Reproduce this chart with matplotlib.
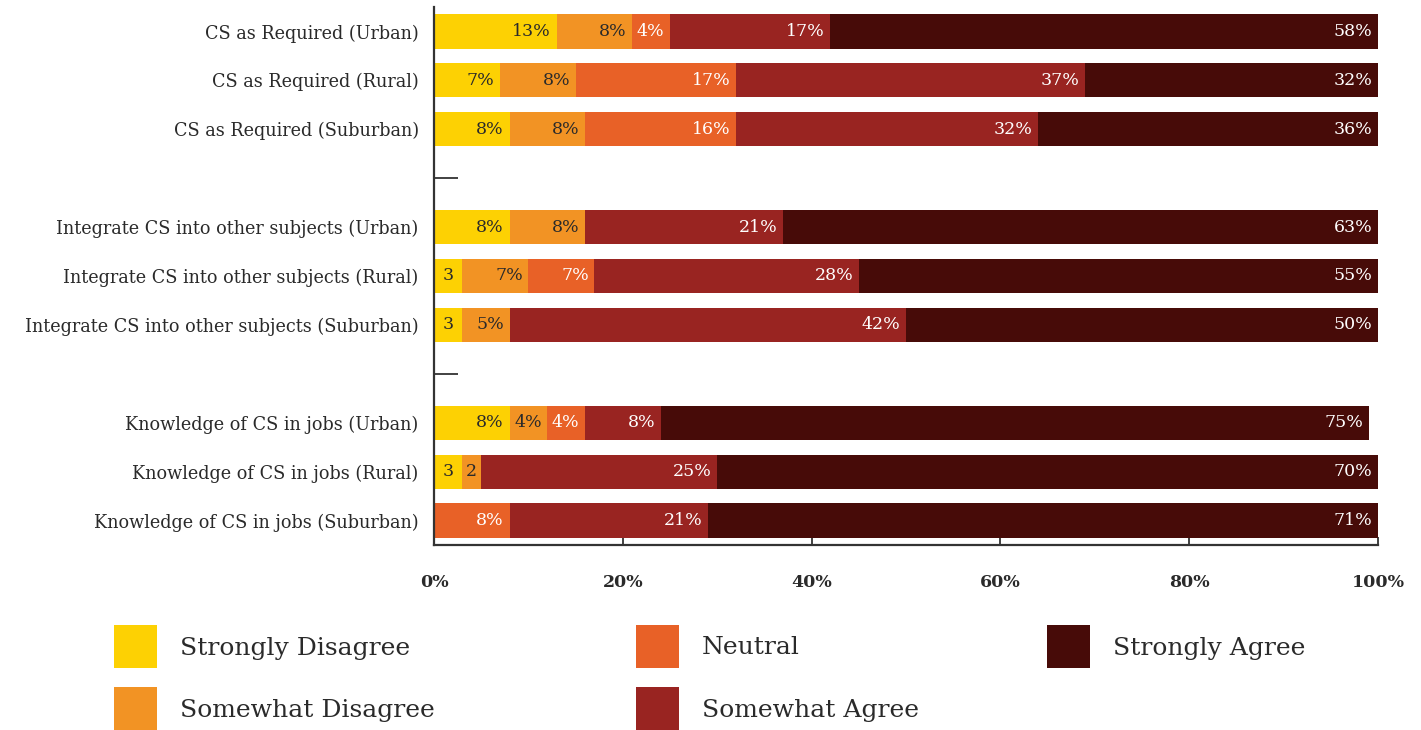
import matplotlib.pyplot as plt
import matplotlib.patches as mpatches

plt.rcParams['font.family'] = ['DejaVu Serif']

# survey rows, '' marks the blank gap between groups
rows = ['CS as Required (Urban)', 'CS as Required (Rural)', 'CS as Required (Suburban)', '',
        'Integrate CS into other subjects (Urban)', 'Integrate CS into other subjects (Rural)',
        'Integrate CS into other subjects (Suburban)', '',
        'Knowledge of CS in jobs (Urban)', 'Knowledge of CS in jobs (Rural)',
        'Knowledge of CS in jobs (Suburban)']

responses = ['Strongly Disagree', 'Somewhat Disagree', 'Neutral', 'Somewhat Agree', 'Strongly Agree']
colors = ['#FDD103', '#F29324', '#E86127', '#992421', '#470B08']
text_colors = ['#2a2a2a', '#2a2a2a', 'white', 'white', 'white']

strongly_disagree = [13, 7, 8, None, 8, 3, 3, None, 8, 3, 0]
somewhat_disagree = [8, 8, 8, None, 8, 7, 5, None, 4, 2, 0]
neutral = [4, 17, 16, None, 0, 7, 0, None, 4, 0, 8]
somewhat_agree = [17, 37, 32, None, 21, 28, 42, None, 8, 25, 21]
strongly_agree = [58, 32, 36, None, 63, 55, 50, None, 75, 70, 71]

series = [strongly_disagree, somewhat_disagree, neutral, somewhat_agree, strongly_agree]

fig = plt.figure(figsize=(14.21, 7.30), dpi=100)
ax = fig.add_axes([434 / 1421, 1 - 545 / 730, 944 / 1421, 538 / 730])

ypos = list(range(len(rows)))
left = [0] * len(rows)
for vals, col, tcol in zip(series, colors, text_colors):
    for i, v in enumerate(vals):
        if v is None or v == 0:
            continue
        ax.barh(i, v, left=left[i], height=0.7, color=col, linewidth=0)
        end = left[i] + v
        if v >= 4:
            ax.annotate(f'{v}%', (min(end, 100), i), xytext=(-4, 0), textcoords='offset points',
                        ha='right', va='center', fontsize=12.5, color=tcol)
        else:
            ax.text(left[i] + v / 2, i, f'{v}', ha='center', va='center', fontsize=12.5, color=tcol)
        left[i] = end

ax.set_xlim(0, 100)
ax.set_ylim(len(rows) - 0.5, -0.5)
ax.set_yticks(ypos)
ax.set_yticklabels(rows, fontsize=12.7, color='#2a2a2a')
ax.set_xticks([0, 20, 40, 60, 80, 100])
ax.set_xticklabels(['0%', '20%', '40%', '60%', '80%', '100%'], fontsize=12.5,
                   color='#2a2a2a', fontweight='semibold')
ax.tick_params(axis='y', direction='in', length=17, width=1.3, color='#333333', pad=11)
ax.tick_params(axis='x', direction='in', length=6, width=1.3, color='#333333', pad=21)
ax.set_axisbelow(True)
for side in ['top', 'right']:
    ax.spines[side].set_visible(False)
for side in ['left', 'bottom']:
    ax.spines[side].set_color('#333333')
    ax.spines[side].set_linewidth(1.6)

# legend laid out in three columns below the axis
W, H = 1421, 730
legend_x = [114, 114, 636, 636, 1047]
legend_y = [625, 687, 625, 687, 625]
for name, col, x, y in zip(responses, colors, legend_x, legend_y):
    fig.add_artist(mpatches.Rectangle((x / W, 1 - (y + 43) / H), 43 / W, 43 / H,
                                      transform=fig.transFigure, color=col, linewidth=0))
    fig.text((x + 66) / W, 1 - (y + 23) / H, name, ha='left', va='center',
             fontsize=18, color='#2a2a2a')

fig.savefig('out.png', dpi=100)
